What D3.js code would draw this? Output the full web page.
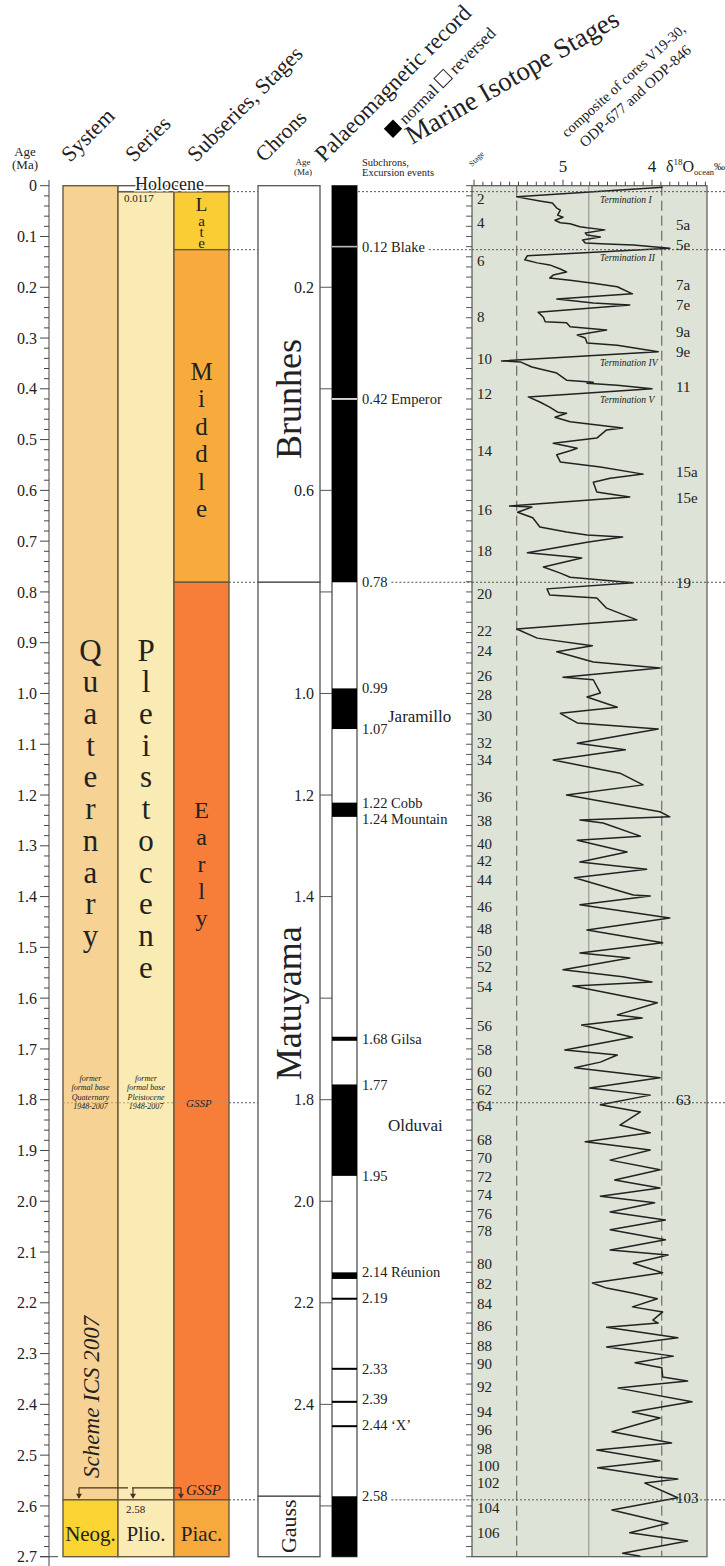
<!DOCTYPE html>
<html><head><meta charset="utf-8">
<script src="https://cdn.jsdelivr.net/npm/d3@7"></script>
<style>
body{margin:0;background:#fff}
svg{display:block}
text{font-family:"Liberation Serif","Times New Roman",serif;fill:#222}
</style>
</head><body>
<svg id="c" width="725" height="1566"></svg>
<script>
// ---------------- DATA ----------------
const systemUnits = [
  {name:"Quaternary", top:0, base:2.588},
  {name:"Neog.", top:2.588, base:2.7}
];
const seriesUnits = [
  {name:"Pleistocene", top:0.0117, base:2.588},
  {name:"Plio.", top:2.588, base:2.7}
];
const holocene = {name:"Holocene", top:0, base:0.0117};
const stageUnits = [
  {name:"Late", top:0.0117, base:0.126},
  {name:"Middle", top:0.126, base:0.781},
  {name:"Early", top:0.781, base:2.588},
  {name:"Piac.", top:2.588, base:2.7}
];
const chronUnits = [
  {name:"Brunhes", top:0, base:0.781},
  {name:"Matuyama", top:0.781, base:2.581},
  {name:"Gauss", top:2.581, base:2.7}
];
// normal polarity intervals [top, base] in Ma
const normalPolarity = [
  [0,0.781],[0.99,1.07],[1.215,1.243],[1.676,1.684],[1.77,1.95],
  [2.14,2.153],[2.19,2.194],[2.328,2.332],[2.393,2.397],[2.441,2.444],[2.581,2.7]
];
const excursions = [0.12, 0.42];
const subchronLabels = [
  {age:0.12, text:"0.12 Blake"},{age:0.42, text:"0.42 Emperor"},{age:0.78, text:"0.78"},
  {age:0.99, text:"0.99"},{age:1.07, text:"1.07"},{age:1.215, text:"1.22 Cobb"},
  {age:1.247, text:"1.24 Mountain"},{age:1.68, text:"1.68 Gilsa"},{age:1.77, text:"1.77"},
  {age:1.95, text:"1.95"},{age:2.14, text:"2.14 Réunion"},{age:2.19, text:"2.19"},
  {age:2.33, text:"2.33"},{age:2.39, text:"2.39"},{age:2.44, text:"2.44 ‘X’"},{age:2.58, text:"2.58"}
];
const subchronNames = [{age:1.045, text:"Jaramillo"},{age:1.85, text:"Olduvai"}];
const boundaryAges = [0.0117, 0.126, 0.781, 1.806, 2.588];
const chronAxisLabels = [0.2,0.6,1.0,1.2,1.4,1.8,2.0,2.2,2.4];
const isoTopLabels = [5,4];
const isoGuides = [5.52, 4.71, 3.89];
// marine isotope stage labels (left side) [stage, age]
const misLeft = [
  [2,0.026],[4,0.073],[6,0.148],[8,0.259],[10,0.341],[12,0.41],[14,0.522],[16,0.639],[18,0.719],
  [20,0.804],[22,0.877],[24,0.916],[26,0.966],[28,1.003],[30,1.044],[32,1.098],[34,1.131],
  [36,1.204],[38,1.251],[40,1.296],[42,1.33],[44,1.367],[46,1.42],[48,1.464],[50,1.507],
  [52,1.538],[54,1.578],[56,1.655],[58,1.702],[60,1.745],[62,1.781],[64,1.812],[68,1.879],
  [70,1.915],[72,1.952],[74,1.987],[76,2.025],[78,2.058],[80,2.123],[82,2.163],[84,2.202],
  [86,2.245],[88,2.285],[90,2.32],[92,2.366],[94,2.415],[96,2.45],[98,2.488],[100,2.521],
  [102,2.555],[104,2.604],[106,2.653]
];
const misRight = [
  ["5a",0.077],["5e",0.117],["7a",0.196],["7e",0.235],["9a",0.288],["9e",0.327],["11",0.396],
  ["15a",0.564],["15e",0.615],["19",0.782],["63",1.8],["103",2.584]
];
const terminations = [["Termination I",0.028],["Termination II",0.142],["Termination IV",0.349],["Termination V",0.422]];
// δ18O ocean composite [age Ma, ‰]
const isotopeCurve = [
[0.003,3.88],[0.022,5.52],[0.030,5.26],[0.034,5.12],[0.044,5.07],[0.048,5.03],[0.058,5.06],[0.062,5.00],
[0.068,5.09],[0.073,5.03],[0.075,4.92],[0.081,4.81],[0.083,4.73],[0.087,4.53],[0.093,4.75],[0.097,4.73],
[0.101,4.58],[0.107,4.78],[0.113,4.75],[0.115,4.51],[0.117,4.21],[0.123,3.80],[0.138,5.40],[0.146,5.43],
[0.152,5.29],[0.156,5.15],[0.164,5.03],[0.170,4.96],[0.176,5.11],[0.182,5.15],[0.186,4.92],[0.192,4.66],
[0.199,4.39],[0.213,4.22],[0.223,5.07],[0.231,4.66],[0.235,4.25],[0.249,5.28],[0.259,5.22],[0.268,5.20],
[0.270,4.96],[0.278,4.92],[0.284,4.51],[0.294,4.84],[0.300,4.75],[0.310,4.73],[0.314,4.39],[0.327,3.93],
[0.345,5.69],[0.347,5.48],[0.357,5.35],[0.369,5.07],[0.383,4.96],[0.387,4.66],[0.389,4.73],[0.393,4.39],
[0.400,4.00],[0.416,5.39],[0.426,5.26],[0.436,5.15],[0.446,5.06],[0.448,4.96],[0.456,5.09],[0.465,4.92],
[0.477,4.33],[0.481,4.51],[0.497,4.62],[0.507,5.11],[0.517,4.84],[0.522,4.92],[0.530,5.07],[0.544,5.03],
[0.554,4.58],[0.568,4.10],[0.576,4.47],[0.584,4.66],[0.603,4.62],[0.605,4.55],[0.613,4.25],[0.631,5.60],
[0.633,5.35],[0.643,5.51],[0.654,5.34],[0.672,5.26],[0.682,4.96],[0.688,4.73],[0.692,4.33],[0.702,4.73],
[0.723,5.40],[0.731,4.89],[0.733,4.79],[0.751,5.22],[0.763,5.03],[0.771,4.92],[0.782,4.21],[0.794,5.18],
[0.806,5.15],[0.812,4.62],[0.832,4.51],[0.855,4.17],[0.873,5.52],[0.891,5.29],[0.906,4.67],[0.918,5.07],
[0.938,4.66],[0.950,3.91],[0.968,5.00],[0.973,4.66],[0.999,4.58],[1.007,4.73],[1.027,4.39],[1.039,5.03],
[1.058,4.84],[1.070,3.93],[1.098,4.84],[1.111,4.30],[1.131,5.11],[1.157,4.36],[1.180,4.10],[1.200,4.96],
[1.233,3.91],[1.243,3.80],[1.249,4.81],[1.255,4.55],[1.281,4.13],[1.289,4.84],[1.312,4.28],[1.332,4.81],
[1.346,4.06],[1.363,4.87],[1.397,4.21],[1.399,4.02],[1.416,4.81],[1.442,3.80],[1.466,4.73],[1.491,3.88],
[1.511,4.81],[1.521,4.25],[1.544,5.00],[1.558,4.33],[1.568,4.00],[1.576,4.89],[1.609,3.94],[1.633,4.39],
[1.639,4.11],[1.653,4.79],[1.677,4.22],[1.702,4.98],[1.712,4.39],[1.726,4.58],[1.737,4.87],[1.757,3.91],
[1.777,4.70],[1.791,4.02],[1.810,4.58],[1.824,4.13],[1.850,4.36],[1.865,4.02],[1.883,4.75],[1.899,4.02],
[1.919,4.47],[1.938,3.91],[1.958,4.42],[1.974,3.91],[1.990,4.58],[2.003,3.97],[2.021,4.47],[2.037,3.85],
[2.056,4.47],[2.076,3.85],[2.096,4.47],[2.106,3.82],[2.122,4.21],[2.141,3.88],[2.161,4.67],[2.171,4.51],
[2.181,4.21],[2.192,3.94],[2.208,4.22],[2.218,3.88],[2.234,3.99],[2.240,3.93],[2.248,4.51],[2.269,3.71],
[2.287,4.51],[2.305,3.76],[2.318,4.19],[2.328,3.89],[2.346,3.88],[2.354,3.60],[2.368,4.38],[2.395,3.55],
[2.415,4.22],[2.427,3.91],[2.454,4.45],[2.476,3.78],[2.490,4.62],[2.511,3.91],[2.525,4.61],[2.543,3.94],
[2.547,3.71],[2.555,4.08],[2.584,3.71],[2.608,4.45],[2.634,3.82],[2.653,4.25],[2.669,3.60],[2.693,4.33],
[2.699,4.13]
];

// ---------------- LAYOUT ----------------
const svg = d3.select("#c");
const y = d3.scaleLinear().domain([0,2.7]).range([185.7,1556.7]);
const xIso = d3.scaleLinear().domain([5,4]).range([563,652]);
const C = {sys:[63,118], ser:[118,174], stg:[174,229], chron:[258,320], pm:[332,357], iso:[472,707]};
const fills = {"Quaternary":"#f6d394","Neog.":"#f9d433","Pleistocene":"#f9ebb3","Plio.":"#f9ebb3",
  "Late":"#f9cd33","Middle":"#f7ab3d","Early":"#f77e39","Piac.":"#f8a93e"};
const border = "#6b5a3c";

function units(data, x0, x1){
  svg.append("g").selectAll("rect").data(data).join("rect")
    .attr("x",x0).attr("width",x1-x0)
    .attr("y",d=>y(d.top)).attr("height",d=>y(d.base)-y(d.top))
    .attr("fill",d=>fills[d.name]).attr("stroke",border).attr("stroke-width",1.4);
}
units(systemUnits, C.sys[0], C.sys[1]);
units(seriesUnits, C.ser[0], C.ser[1]);
units(stageUnits, C.stg[0], C.stg[1]);

const dots = svg.append("g").attr("stroke","#555").attr("stroke-width",1).attr("stroke-dasharray","2,2");
boundaryAges.forEach(a=>{
  dots.append("line").attr("x1",C.stg[1]).attr("x2",C.chron[0]).attr("y1",y(a)).attr("y2",y(a));
});

// isotope panel background
svg.append("rect").attr("x",C.iso[0]).attr("y",y(0)).attr("width",C.iso[1]-C.iso[0]).attr("height",y(2.7)-y(0))
  .attr("fill","#dde3d6").attr("stroke","#555").attr("stroke-width",1.2);

// Holocene
svg.append("rect").attr("x",C.ser[0]).attr("width",C.stg[1]-C.ser[0]).attr("y",y(holocene.top))
  .attr("height",y(holocene.base)-y(holocene.top)).attr("fill","#fff").attr("stroke",border).attr("stroke-width",1.4);
svg.append("text").attr("x",(C.ser[0]+C.stg[1])/2-4).attr("y",y(0)+4).attr("text-anchor","middle")
  .attr("font-size",18).attr("stroke","#fff").attr("stroke-width",3).attr("paint-order","stroke").text(holocene.name);
svg.append("text").attr("x",C.ser[0]+6).attr("y",y(0.0117)+10).attr("font-size",11).text("0.0117");

// left age axis
const ax = svg.append("g");
ax.append("line").attr("x1",49).attr("x2",49).attr("y1",180).attr("y2",1566).attr("stroke","#444");
d3.range(0,136).forEach(i=>{
  const a=i*0.02; const major = i%5===0;
  ax.append("line").attr("x1",major?40:44).attr("x2",49).attr("y1",y(a)).attr("y2",y(a)).attr("stroke","#444");
  if(major) ax.append("text").attr("x",37).attr("y",y(a)).attr("dy","0.35em").attr("text-anchor","end")
     .attr("font-size",16).attr("fill","#333").text(i===0?"0":d3.format(".1f")(a));
});
ax.append("line").attr("x1",40).attr("x2",58).attr("y1",y(2.7)).attr("y2",y(2.7)).attr("stroke","#444");
svg.append("text").attr("x",25).attr("y",156).attr("text-anchor","middle").attr("font-size",13).text("Age");
svg.append("text").attr("x",25).attr("y",169).attr("text-anchor","middle").attr("font-size",13).text("(Ma)");

// stacked letters
function stack(word, cx, firstY, step, size){
  const g = svg.append("g");
  word.split("").forEach((ch,i)=>{
    g.append("text").attr("x",cx).attr("y",firstY+i*step).attr("dy","0.35em").attr("text-anchor","middle")
      .attr("font-size",size).attr("fill","#3a2a1a").text(ch);
  });
}
const mid = c=>(c[0]+c[1])/2;
stack("Quaternary", mid(C.sys), y(0.914), 31.7, 31);
stack("Pleistocene", mid(C.ser), y(0.914), 31.7, 31);
stack("Middle", mid(C.stg), y(0.365), 27.5, 25);
stack("Early", mid(C.stg), y(1.229), 27, 24);
[["L",0.036,19],["a",0.069,15],["t",0.091,15],["e",0.112,15]].forEach(d=>{
  svg.append("text").attr("x",mid(C.stg)).attr("y",y(d[1])).attr("dy","0.35em").attr("text-anchor","middle")
    .attr("font-size",d[2]).attr("fill","#3a2a1a").text(d[0]);
});
[[systemUnits[1],C.sys],[seriesUnits[1],C.ser],[stageUnits[3],C.stg]].forEach(([u,c])=>{
  svg.append("text").attr("x",mid(c)).attr("y",y(2.655)).attr("dy","0.35em").attr("text-anchor","middle")
    .attr("font-size",21).attr("fill","#2a1a0a").text(u.name);
});
svg.append("text").attr("x",C.ser[0]+8).attr("y",y(2.588)+13).attr("font-size",11).text("2.58");

svg.append("text").attr("transform",`translate(99,${y(2.385)}) rotate(-90)`).attr("text-anchor","middle")
  .attr("font-size",23).attr("font-style","italic").attr("fill","#a39479").text("Scheme ICS 2007");

// GSSP 2.588 arrows
const gs = svg.append("g").attr("stroke","#4a3020").attr("stroke-width",1.2).attr("fill","none");
const gy = y(2.588)-12;
gs.append("path").attr("d",`M79,${gy}H128 M132,${gy}H181`);
[79,133,181].forEach(xx=>{
  gs.append("line").attr("x1",xx).attr("x2",xx).attr("y1",gy).attr("y2",y(2.588)-2);
  svg.append("path").attr("d",`M${xx-3},${y(2.588)-6}L${xx+3},${y(2.588)-6}L${xx},${y(2.588)-1}Z`).attr("fill","#4a3020");
});
svg.append("text").attr("x",186).attr("y",y(2.588)-5).attr("font-size",15).attr("font-style","italic")
  .attr("fill","#8a2222").text("GSSP");

// former base 1.806
[["Quaternary",C.sys],["Pleistocene",C.ser]].forEach(([n,c])=>{
  ["former","formal base",n,"1948-2007"].forEach((t,i)=>{
    svg.append("text").attr("x",mid(c)).attr("y",y(1.806)-22+i*9.5).attr("text-anchor","middle")
      .attr("font-size",8).attr("font-style","italic").attr("fill","#a39479").text(t);
  });
});
svg.append("text").attr("x",186).attr("y",y(1.806)+4).attr("font-size",11).attr("font-style","italic")
  .attr("fill","#a39479").text("GSSP");
svg.append("line").attr("x1",C.sys[0]).attr("x2",C.stg[1]).attr("y1",y(1.806)).attr("y2",y(1.806))
  .attr("stroke","#a39479").attr("stroke-width",0.8).attr("stroke-dasharray","2,2");

// chron boxes
svg.append("g").selectAll("rect").data(chronUnits).join("rect")
  .attr("x",C.chron[0]).attr("width",C.chron[1]-C.chron[0]).attr("y",d=>y(d.top)).attr("height",d=>y(d.base)-y(d.top))
  .attr("fill","#fff").attr("stroke","#555").attr("stroke-width",1.3);
const chronText = {"Brunhes":[0.42,36],"Matuyama":[1.61,36],"Gauss":[2.64,22]};
chronUnits.forEach(d=>{
  const [a,fs]=chronText[d.name];
  svg.append("text").attr("transform",`translate(${mid(C.chron)},${y(a)}) rotate(-90)`).attr("dy","0.33em")
    .attr("text-anchor","middle").attr("font-size",fs).text(d.name);
});
d3.range(1,14).forEach(i=>{
  const a=i*0.2;
  svg.append("line").attr("x1",C.chron[1]).attr("x2",C.pm[0]).attr("y1",y(a)).attr("y2",y(a)).attr("stroke","#555");
});
chronAxisLabels.forEach(a=>{
  svg.append("text").attr("x",C.chron[1]-6).attr("y",y(a)).attr("dy","0.35em").attr("text-anchor","end")
    .attr("font-size",16).attr("fill","#333").text(d3.format(".1f")(a));
});
svg.append("text").attr("x",303).attr("y",165).attr("text-anchor","middle").attr("font-size",9).text("Age");
svg.append("text").attr("x",303).attr("y",175).attr("text-anchor","middle").attr("font-size",9).text("(Ma)");

// palaeomagnetic column
svg.append("rect").attr("x",C.pm[0]).attr("width",C.pm[1]-C.pm[0]).attr("y",y(0)).attr("height",y(2.7)-y(0))
  .attr("fill","#fff").attr("stroke","#444").attr("stroke-width",1.2);
svg.append("g").selectAll("rect").data(normalPolarity).join("rect")
  .attr("x",C.pm[0]).attr("width",C.pm[1]-C.pm[0]).attr("y",d=>y(d[0])).attr("height",d=>Math.max(2,y(d[1])-y(d[0])))
  .attr("fill","#000");
excursions.forEach(a=>svg.append("line").attr("x1",C.pm[0]).attr("x2",C.pm[1]).attr("y1",y(a)).attr("y2",y(a))
  .attr("stroke",a<0.2?"#bbb":"#fff").attr("stroke-width",1.6));
svg.append("text").attr("x",362).attr("y",166).attr("font-size",10.5).attr("fill","#444").text("Subchrons,");
svg.append("text").attr("x",362).attr("y",176).attr("font-size",10.5).attr("fill","#444").text("Excursion events");

subchronLabels.forEach(d=>{
  const t = svg.append("text").attr("x",362).attr("y",y(d.age)).attr("dy","0.35em").attr("font-size",14.5)
    .attr("fill","#333").text(d.text);
  const w = t.node().getComputedTextLength();
  if([0.12,0.78,2.58].includes(d.age)){
    const ba = d.age===0.12?0.126:(d.age===0.78?0.781:2.588);
    dots.append("line").attr("x1",362+w+4).attr("x2",C.iso[0]).attr("y1",y(ba)).attr("y2",y(ba));
  }
});
dots.append("line").attr("x1",C.pm[1]+1).attr("x2",C.iso[0]).attr("y1",y(0.0117)).attr("y2",y(0.0117));
subchronNames.forEach(d=>svg.append("text").attr("x",388).attr("y",y(d.age)).attr("dy","0.35em")
  .attr("font-size",17).text(d.text));

// ---- isotope panel ----
const iso = svg.append("g");
isoGuides.forEach((v,i)=>iso.append("line").attr("x1",xIso(v)).attr("x2",xIso(v)).attr("y1",y(0)).attr("y2",y(2.7))
  .attr("stroke",i===1?"#8a8a8a":"#555").attr("stroke-width",1).attr("stroke-dasharray",i===1?null:"10,5"));
const dots2 = svg.append("g").attr("stroke","#555").attr("stroke-width",1).attr("stroke-dasharray","2,2");
boundaryAges.forEach(a=>dots2.append("line").attr("x1",C.iso[0]).attr("x2",C.iso[1]).attr("y1",y(a)).attr("y2",y(a)));
d3.range(34,61).forEach(i=>{
  const v=i/10; const xx=xIso(v);
  if(xx<C.iso[0]||xx>C.iso[1]) return;
  iso.append("line").attr("x1",xx).attr("x2",xx).attr("y1",y(0)).attr("y2",y(0)-(i%10===0?6:4)).attr("stroke","#444");
});
isoTopLabels.forEach(v=>iso.append("text").attr("x",xIso(v)).attr("y",172).attr("text-anchor","middle")
  .attr("font-size",17).text(v));
const dl = svg.append("text").attr("x",666).attr("y",172).attr("font-size",16);
dl.append("tspan").text("δ");
dl.append("tspan").attr("font-size",9).attr("dy",-7).text("18");
dl.append("tspan").attr("font-size",16).attr("dy",7).text("O");
dl.append("tspan").attr("font-size",8.5).attr("dy",3).text("ocean");
dl.append("tspan").attr("font-size",11).attr("dy",-5).text("‰");
d3.range(0,136).forEach(i=>{
  iso.append("line").attr("x1",C.iso[0]-6).attr("x2",C.iso[0]).attr("y1",y(i*0.02)).attr("y2",y(i*0.02)).attr("stroke","#555");
});
const line = d3.line().x(d=>xIso(d[1])).y(d=>y(d[0]));
iso.append("path").datum(isotopeCurve).attr("d",line).attr("fill","none").attr("stroke","#222").attr("stroke-width",1.5)
  .attr("stroke-linejoin","round");
misLeft.forEach(d=>iso.append("text").attr("x",C.iso[0]+5).attr("y",y(d[1])).attr("dy","0.35em")
  .attr("font-size",15).attr("fill","#333").text(d[0]));
misRight.forEach(d=>{
  svg.append("text").attr("x",676).attr("y",y(d[1])).attr("dy","0.35em").attr("font-size",15).attr("fill","#333").text(d[0]);
});
terminations.forEach(d=>iso.append("text").attr("x",600).attr("y",y(d[1])).attr("dy","0.35em")
  .attr("font-size",9.5).attr("font-style","italic").attr("font-family","Liberation Sans, Arial, sans-serif")
  .attr("fill","#333").text(d[0]));
boundaryAges.forEach(a=>dots2.append("line").attr("x1",C.iso[1]).attr("x2",725).attr("y1",y(a)).attr("y2",y(a)));

// ---- headers ----
function rot(txt,x,yy,ang,fs){
  return svg.append("text").attr("transform",`translate(${x},${yy}) rotate(${ang})`).attr("font-size",fs).text(txt);
}
rot("System",70,163,-45,22);
rot("Series",134,163,-45,22);
rot("Subseries, Stages",196,163,-45,22);
rot("Chrons",264,163,-45,21.5);
rot("Palaeomagnetic record",324,163,-45,23);
const lg = svg.append("g").attr("transform","translate(393,138) rotate(-45)");
lg.append("rect").attr("x",0).attr("y",-13).attr("width",13).attr("height",13).attr("fill","#000");
lg.append("text").attr("x",18).attr("y",0).attr("font-size",17).text("normal");
lg.append("rect").attr("x",71).attr("y",-13).attr("width",13).attr("height",13).attr("fill","#fff").attr("stroke","#222");
lg.append("text").attr("x",89).attr("y",0).attr("font-size",17).text("reversed");
rot("Stage",472,167,-45,8).attr("fill","#555");
rot("Marine Isotope Stages",412,145,-30,27);
rot("composite of cores V19-30,",567,138,-42,14.5);
rot("ODP-677 and ODP-846",585,148,-42,15);
</script>
</body></html>
